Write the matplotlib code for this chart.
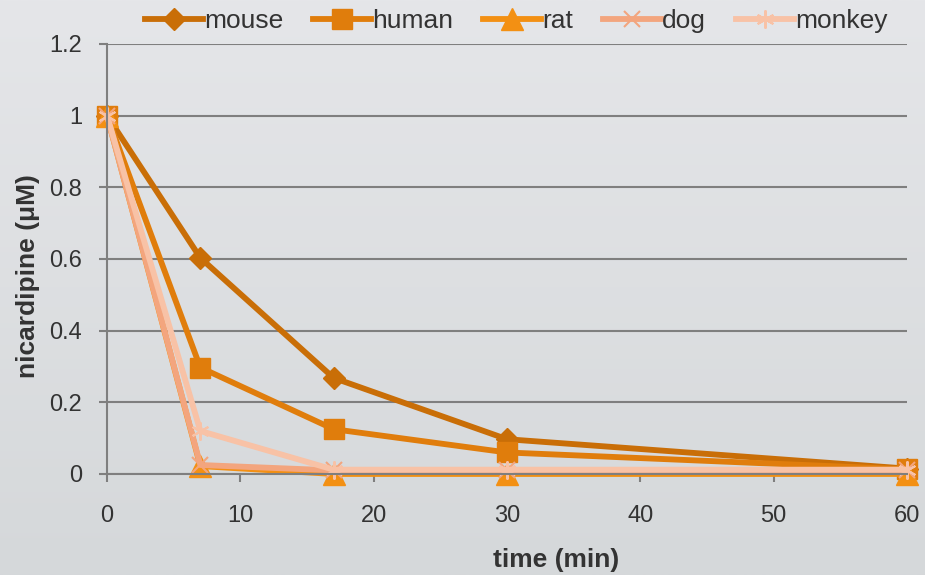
import numpy as np
import matplotlib
matplotlib.use("Agg")
import matplotlib.pyplot as plt
from matplotlib.ticker import FuncFormatter
from matplotlib.colors import LinearSegmentedColormap

plt.rcParams['font.family'] = ['Liberation Sans', 'DejaVu Sans']

time = [0, 7, 17, 30, 60]
mouse = [1.0, 0.603, 0.268, 0.097, 0.015]
human = [1.0, 0.297, 0.125, 0.060, 0.013]
rat = [1.0, 0.022, 0.0, 0.0, 0.0]
dog = [1.0, 0.025, 0.010, 0.010, 0.010]
monkey = [1.0, 0.120, 0.012, 0.012, 0.012]

series = [
    ("mouse", mouse, "#c96e07", "D", 11, 1),
    ("human", human, "#e07d0c", "s", 14, 1),
    ("rat", rat, "#f39013", "^", 16, 1),
    ("dog", dog, "#f3a57e", "x", 12, 1.5),
    ("monkey", monkey, "#f8c2a6", (6, 2, 0), 13, 1.5),
]

fig = plt.figure(figsize=(9.25, 5.75), dpi=100)
bg = fig.add_axes([0, 0, 1, 1], zorder=-10)
grad = np.linspace(0, 1, 256).reshape(-1, 1)
cmap = LinearSegmentedColormap.from_list("bg", ["#e5e6e9", "#d5d8da"])
bg.imshow(grad, aspect='auto', cmap=cmap, extent=[0, 1, 0, 1])
bg.axis('off')

ax = fig.add_axes([0.1157, 0.1757, 0.8648, 0.7478])
ax.patch.set_alpha(0)
for name, vals, col, mk, ms, mew in series:
    ax.plot(time, vals, color=col, lw=4.2, marker=mk, ms=ms,
            markeredgewidth=mew, markeredgecolor=col, markerfacecolor=col,
            label=name, clip_on=False, solid_joinstyle='round')

ax.set_xlim(0, 60)
ax.set_ylim(0, 1.2)
ax.set_xticks([0, 10, 20, 30, 40, 50, 60])
ax.set_yticks([0, 0.2, 0.4, 0.6, 0.8, 1.0, 1.2])
ax.yaxis.set_major_formatter(FuncFormatter(lambda v, p: f"{v:g}"))
ax.grid(axis='y', color='#7f7f7f', lw=1.5)
ax.set_axisbelow(True)
for s in ['top', 'right']:
    ax.spines[s].set_visible(False)
for s in ['left', 'bottom']:
    ax.spines[s].set_color('#7f7f7f')
    ax.spines[s].set_linewidth(1.5)
ax.tick_params(axis='both', colors='#7f7f7f', width=1.5, length=6,
               labelsize=17, labelcolor='#333333')
ax.tick_params(axis='y', direction='out', pad=12)
ax.tick_params(axis='x', pad=16)

ax.set_xlabel("time (min)", fontsize=19, fontweight='bold', color='#333333', va='center')
ax.set_ylabel("nicardipine (μM)", fontsize=19, fontweight='bold', color='#333333', va='center')
ax.xaxis.set_label_coords(0.561, -0.2)
ax.yaxis.set_label_coords(-0.099, 0.46)

fig.legend(loc='upper center', bbox_to_anchor=(0.558, 1.025), ncol=5, frameon=False,
           fontsize=19, handlelength=2.2, handletextpad=0.05, columnspacing=1.12,
           labelcolor='#333333')

fig.savefig("out.png", dpi=100)
